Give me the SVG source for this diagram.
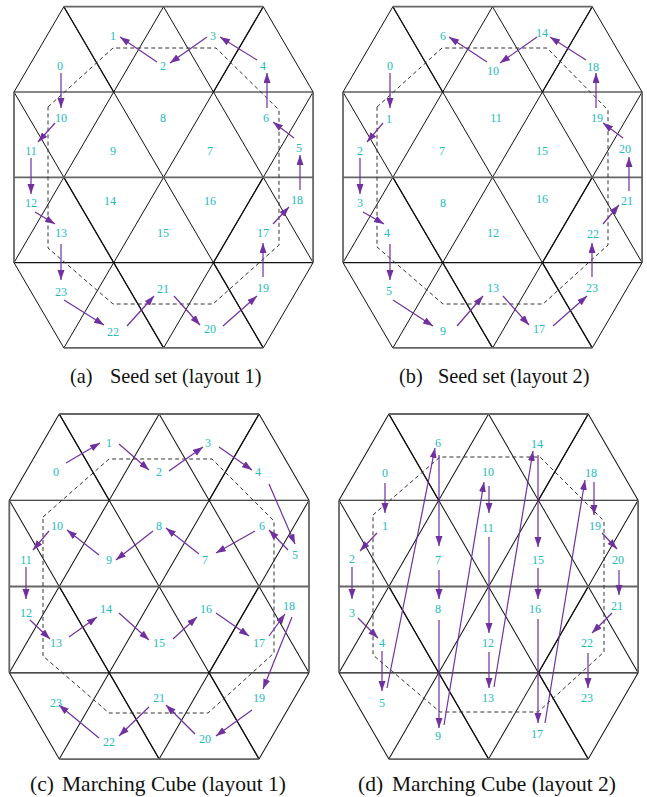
<svg xmlns="http://www.w3.org/2000/svg" xmlns:xlink="http://www.w3.org/1999/xlink" width="647" height="797" viewBox="0 0 647 797">
<style>
.g{fill:none;stroke:#111;stroke-width:1}
.gb{fill:none;stroke:#111;stroke-width:1.3}
.gh{fill:none;stroke:#111;stroke-width:1.2}
.ge{fill:none;stroke:#666;stroke-width:1.8}
.oct{fill:none;stroke:#333;stroke-width:1;stroke-dasharray:4 3}
.lb{font-family:"Liberation Serif","Times New Roman",serif;font-size:12px;fill:#22bcbc;text-anchor:middle}
.arr{stroke:#7030a0;stroke-width:1.2;fill:none;marker-end:url(#ah)}
.cap{font-family:"Liberation Serif","Times New Roman",serif;fill:#111}
</style>
<defs>
<marker id="ah" markerUnits="userSpaceOnUse" markerWidth="10" markerHeight="8" refX="10" refY="3.5" orient="auto">
<path d="M0,0 L10,3.5 L0,7 z" fill="#7030a0"/>
</marker>
<g id="grid">
<path class="g" d="M50,0 L0,86 M150,0 L0,258 M250,0 L50,344 M300,86 L150,344 M300,258 L250,344 M250,0 L300,86 M150,0 L300,258 M50,0 L250,344 M0,86 L150,344 M0,258 L50,344"/>
<path class="gb" d="M50,0 L100,86 M250,0 L200,86 M50,172 L150,344 M250,172 L200,258 L250,344"/>
<path class="gh" d="M0,86 L300,86 M0,258 L300,258"/>
<path class="ge" d="M50,0 L250,0 M50,344 L250,344 M0,172 L300,172 M0,86 L0,258 M300,86 L300,258"/>
</g>
</defs>
<rect width="647" height="797" fill="#fff"/>

<g id="panel-a-grid">
<use xlink:href="#grid" href="#grid" transform="translate(14,6.7) scale(0.997,0.992)"/>
<polygon class="oct" points="48,107 113,48 216,48 279,110 279,245 213,304 113,304 48,248"/>
</g>
<g id="panel-b-grid">
<use xlink:href="#grid" href="#grid" transform="translate(343,6.7) scale(0.997,0.992)"/>
<polygon class="oct" points="377,107 442,48 547,48 608,110 608,245 543,304 443,304 377,247"/>
</g>
<g id="panel-c-grid">
<use xlink:href="#grid" href="#grid" transform="translate(9.3,414) scale(0.999,1.003)"/>
<polygon class="oct" points="43,517 109,459 212,459 274,521 274,653 208,713 109,713 43,656"/>
</g>
<g id="panel-d-grid">
<use xlink:href="#grid" href="#grid" transform="translate(339,414) scale(0.997,1.003)"/>
<polygon class="oct" points="373,515 440,457 540,457 604,521 604,652 538,712 440,712 373,655"/>
</g>

<g id="connectors">
<g id="conn-a">
<line class="arr" x1="61" y1="73" x2="61" y2="108"/>
<line class="arr" x1="55" y1="123" x2="38" y2="142"/>
<line class="arr" x1="31" y1="158" x2="31" y2="194"/>
<line class="arr" x1="35" y1="212" x2="55" y2="224"/>
<line class="arr" x1="61" y1="244" x2="61" y2="280"/>
<line class="arr" x1="64" y1="300" x2="104" y2="325"/>
<line class="arr" x1="127" y1="326" x2="154" y2="296"/>
<line class="arr" x1="174" y1="296" x2="200" y2="325"/>
<line class="arr" x1="223" y1="326" x2="257" y2="296"/>
<line class="arr" x1="263" y1="277" x2="263" y2="243"/>
<line class="arr" x1="273" y1="224" x2="289" y2="207"/>
<line class="arr" x1="300" y1="190" x2="300" y2="155"/>
<line class="arr" x1="294" y1="138" x2="273" y2="122"/>
<line class="arr" x1="267" y1="108" x2="267" y2="73"/>
<line class="arr" x1="257" y1="60" x2="220" y2="37"/>
<line class="arr" x1="207" y1="37" x2="170" y2="63"/>
<line class="arr" x1="157" y1="62" x2="120" y2="37"/>
</g>
<g id="conn-b">
<line class="arr" x1="390" y1="73" x2="390" y2="108"/>
<line class="arr" x1="383" y1="123" x2="367" y2="142"/>
<line class="arr" x1="360" y1="158" x2="360" y2="194"/>
<line class="arr" x1="363" y1="212" x2="384" y2="224"/>
<line class="arr" x1="390" y1="244" x2="390" y2="280"/>
<line class="arr" x1="393" y1="300" x2="433" y2="326"/>
<line class="arr" x1="457" y1="326" x2="483" y2="296"/>
<line class="arr" x1="503" y1="296" x2="529" y2="325"/>
<line class="arr" x1="553" y1="326" x2="587" y2="296"/>
<line class="arr" x1="592" y1="277" x2="592" y2="243"/>
<line class="arr" x1="603" y1="224" x2="619" y2="205"/>
<line class="arr" x1="629" y1="191" x2="629" y2="157"/>
<line class="arr" x1="623" y1="138" x2="603" y2="123"/>
<line class="arr" x1="596" y1="108" x2="596" y2="73"/>
<line class="arr" x1="586" y1="60" x2="550" y2="37"/>
<line class="arr" x1="537" y1="37" x2="500" y2="63"/>
<line class="arr" x1="487" y1="62" x2="449" y2="37"/>
</g>
<g id="conn-c">
<line class="arr" x1="66" y1="463" x2="100" y2="443"/>
<line class="arr" x1="119" y1="444" x2="149" y2="470"/>
<line class="arr" x1="169" y1="471" x2="203" y2="447"/>
<line class="arr" x1="219" y1="447" x2="252" y2="470"/>
<line class="arr" x1="269" y1="484" x2="295" y2="544"/>
<line class="arr" x1="288" y1="550" x2="269" y2="530"/>
<line class="arr" x1="255" y1="531" x2="216" y2="553"/>
<line class="arr" x1="199" y1="554" x2="166" y2="528"/>
<line class="arr" x1="153" y1="531" x2="116" y2="560"/>
<line class="arr" x1="99" y1="555" x2="67" y2="530"/>
<line class="arr" x1="49" y1="531" x2="33" y2="550"/>
<line class="arr" x1="26" y1="567" x2="26" y2="599"/>
<line class="arr" x1="30" y1="620" x2="50" y2="639"/>
<line class="arr" x1="69" y1="637" x2="97" y2="617"/>
<line class="arr" x1="119" y1="613" x2="149" y2="640"/>
<line class="arr" x1="173" y1="639" x2="197" y2="617"/>
<line class="arr" x1="216" y1="613" x2="249" y2="636"/>
<line class="arr" x1="269" y1="636" x2="285" y2="614"/>
<line class="arr" x1="292" y1="617" x2="263" y2="689"/>
<line class="arr" x1="252" y1="710" x2="216" y2="736"/>
<line class="arr" x1="195" y1="734" x2="166" y2="705"/>
<line class="arr" x1="149" y1="707" x2="119" y2="736"/>
<line class="arr" x1="99" y1="738" x2="59" y2="705"/>
</g>
<g id="conn-d">
<line class="arr" x1="385" y1="483" x2="385" y2="513"/>
<line class="arr" x1="377" y1="533" x2="360" y2="551"/>
<line class="arr" x1="352" y1="567" x2="352" y2="599"/>
<line class="arr" x1="358" y1="618" x2="378" y2="638"/>
<line class="arr" x1="382" y1="651" x2="382" y2="691"/>
<line class="arr" x1="387" y1="688" x2="435" y2="448"/>
<line class="arr" x1="439" y1="455" x2="439" y2="546"/>
<line class="arr" x1="439" y1="570" x2="439" y2="599"/>
<line class="arr" x1="439" y1="620" x2="439" y2="728"/>
<line class="arr" x1="444" y1="725" x2="484" y2="482"/>
<line class="arr" x1="489" y1="486" x2="489" y2="513"/>
<line class="arr" x1="489" y1="537" x2="489" y2="633"/>
<line class="arr" x1="489" y1="652" x2="489" y2="688"/>
<line class="arr" x1="494" y1="687" x2="533" y2="451"/>
<line class="arr" x1="538" y1="455" x2="538" y2="547"/>
<line class="arr" x1="538" y1="568" x2="538" y2="599"/>
<line class="arr" x1="538" y1="619" x2="538" y2="723"/>
<line class="arr" x1="545" y1="723" x2="585" y2="480"/>
<line class="arr" x1="594" y1="482" x2="594" y2="515"/>
<line class="arr" x1="602" y1="533" x2="617" y2="549"/>
<line class="arr" x1="619" y1="570" x2="619" y2="595"/>
<line class="arr" x1="612" y1="613" x2="592" y2="633"/>
<line class="arr" x1="588" y1="653" x2="588" y2="688"/>
</g>
</g>

<g id="nodes-a">
<g id="a0"><text class="lb" x="60" y="70.3">0</text></g>
<g id="a1"><text class="lb" x="113" y="40.3">1</text></g>
<g id="a2"><text class="lb" x="163" y="70.3">2</text></g>
<g id="a3"><text class="lb" x="213" y="40.3">3</text></g>
<g id="a4"><text class="lb" x="263" y="70.3">4</text></g>
<g id="a5"><text class="lb" x="299" y="152.3">5</text></g>
<g id="a6"><text class="lb" x="266" y="122.3">6</text></g>
<g id="a7"><text class="lb" x="210" y="155.3">7</text></g>
<g id="a8"><text class="lb" x="163" y="122.3">8</text></g>
<g id="a9"><text class="lb" x="113" y="155.3">9</text></g>
<g id="a10"><text class="lb" x="61" y="122.3">10</text></g>
<g id="a11"><text class="lb" x="31" y="155.3">11</text></g>
<g id="a12"><text class="lb" x="31" y="207.3">12</text></g>
<g id="a13"><text class="lb" x="61" y="237.3">13</text></g>
<g id="a14"><text class="lb" x="110" y="205.3">14</text></g>
<g id="a15"><text class="lb" x="163" y="237.3">15</text></g>
<g id="a16"><text class="lb" x="210" y="205.3">16</text></g>
<g id="a17"><text class="lb" x="263" y="237.3">17</text></g>
<g id="a18"><text class="lb" x="297" y="204.3">18</text></g>
<g id="a19"><text class="lb" x="263" y="292.3">19</text></g>
<g id="a20"><text class="lb" x="210" y="333.3">20</text></g>
<g id="a21"><text class="lb" x="163" y="293.3">21</text></g>
<g id="a22"><text class="lb" x="113" y="336.3">22</text></g>
<g id="a23"><text class="lb" x="61" y="296.3">23</text></g>
</g>

<g id="nodes-b">
<g id="b0"><text class="lb" x="390" y="70.3">0</text></g>
<g id="b1"><text class="lb" x="389" y="123.3">1</text></g>
<g id="b2"><text class="lb" x="360" y="155.3">2</text></g>
<g id="b3"><text class="lb" x="360" y="207.3">3</text></g>
<g id="b4"><text class="lb" x="387" y="237.3">4</text></g>
<g id="b5"><text class="lb" x="389" y="295.3">5</text></g>
<g id="b6"><text class="lb" x="443" y="40.3">6</text></g>
<g id="b7"><text class="lb" x="442" y="155.3">7</text></g>
<g id="b8"><text class="lb" x="443" y="207.3">8</text></g>
<g id="b9"><text class="lb" x="443" y="335.3">9</text></g>
<g id="b10"><text class="lb" x="493" y="75.3">10</text></g>
<g id="b11"><text class="lb" x="496" y="122.3">11</text></g>
<g id="b12"><text class="lb" x="493" y="237.3">12</text></g>
<g id="b13"><text class="lb" x="493" y="292.3">13</text></g>
<g id="b14"><text class="lb" x="542" y="37.3">14</text></g>
<g id="b15"><text class="lb" x="542" y="155.3">15</text></g>
<g id="b16"><text class="lb" x="542" y="203.3">16</text></g>
<g id="b17"><text class="lb" x="539" y="333.3">17</text></g>
<g id="b18"><text class="lb" x="593" y="71.3">18</text></g>
<g id="b19"><text class="lb" x="597" y="122.3">19</text></g>
<g id="b20"><text class="lb" x="625" y="153.3">20</text></g>
<g id="b21"><text class="lb" x="627" y="205.3">21</text></g>
<g id="b22"><text class="lb" x="593" y="238.3">22</text></g>
<g id="b23"><text class="lb" x="592" y="292.3">23</text></g>
</g>

<g id="nodes-c">
<g id="c0"><text class="lb" x="56" y="476.3">0</text></g>
<g id="c1"><text class="lb" x="109" y="447.3">1</text></g>
<g id="c2"><text class="lb" x="159" y="476.3">2</text></g>
<g id="c3"><text class="lb" x="208" y="447.3">3</text></g>
<g id="c4"><text class="lb" x="258" y="476.3">4</text></g>
<g id="c5"><text class="lb" x="295" y="559.3">5</text></g>
<g id="c6"><text class="lb" x="262" y="530.3">6</text></g>
<g id="c7"><text class="lb" x="205" y="564.3">7</text></g>
<g id="c8"><text class="lb" x="159" y="530.3">8</text></g>
<g id="c9"><text class="lb" x="109" y="564.3">9</text></g>
<g id="c10"><text class="lb" x="57" y="530.3">10</text></g>
<g id="c11"><text class="lb" x="26" y="564.3">11</text></g>
<g id="c12"><text class="lb" x="26" y="617.3">12</text></g>
<g id="c13"><text class="lb" x="56" y="647.3">13</text></g>
<g id="c14"><text class="lb" x="106" y="613.3">14</text></g>
<g id="c15"><text class="lb" x="159" y="647.3">15</text></g>
<g id="c16"><text class="lb" x="206" y="613.3">16</text></g>
<g id="c17"><text class="lb" x="259" y="647.3">17</text></g>
<g id="c18"><text class="lb" x="289" y="610.3">18</text></g>
<g id="c19"><text class="lb" x="259" y="702.3">19</text></g>
<g id="c20"><text class="lb" x="205" y="743.3">20</text></g>
<g id="c21"><text class="lb" x="159" y="702.3">21</text></g>
<g id="c22"><text class="lb" x="109" y="746.3">22</text></g>
<g id="c23"><text class="lb" x="56" y="707.3">23</text></g>
</g>

<g id="nodes-d">
<g id="d0"><text class="lb" x="385" y="477.3">0</text></g>
<g id="d1"><text class="lb" x="385" y="530.3">1</text></g>
<g id="d2"><text class="lb" x="352" y="563.3">2</text></g>
<g id="d3"><text class="lb" x="352" y="617.3">3</text></g>
<g id="d4"><text class="lb" x="382" y="647.3">4</text></g>
<g id="d5"><text class="lb" x="382" y="707.3">5</text></g>
<g id="d6"><text class="lb" x="438" y="447.3">6</text></g>
<g id="d7"><text class="lb" x="438" y="564.3">7</text></g>
<g id="d8"><text class="lb" x="438" y="613.3">8</text></g>
<g id="d9"><text class="lb" x="438" y="740.3">9</text></g>
<g id="d10"><text class="lb" x="488" y="476.3">10</text></g>
<g id="d11"><text class="lb" x="488" y="532.3">11</text></g>
<g id="d12"><text class="lb" x="488" y="647.3">12</text></g>
<g id="d13"><text class="lb" x="488" y="702.3">13</text></g>
<g id="d14"><text class="lb" x="537" y="448.3">14</text></g>
<g id="d15"><text class="lb" x="538" y="564.3">15</text></g>
<g id="d16"><text class="lb" x="535" y="613.3">16</text></g>
<g id="d17"><text class="lb" x="537" y="738.3">17</text></g>
<g id="d18"><text class="lb" x="591" y="477.3">18</text></g>
<g id="d19"><text class="lb" x="595" y="530.3">19</text></g>
<g id="d20"><text class="lb" x="618" y="564.3">20</text></g>
<g id="d21"><text class="lb" x="617" y="610.3">21</text></g>
<g id="d22"><text class="lb" x="587" y="647.3">22</text></g>
<g id="d23"><text class="lb" x="587" y="702.3">23</text></g>
</g>

<g id="captions">
<text class="cap" font-size="20.3" y="383"><tspan x="70">(a)</tspan><tspan x="110">Seed set (layout 1)</tspan></text>
<text class="cap" font-size="20.3" y="383"><tspan x="399">(b)</tspan><tspan x="438">Seed set (layout 2)</tspan></text>
<text class="cap" font-size="21.5" y="791"><tspan x="30">(c)</tspan><tspan x="62">Marching Cube (layout 1)</tspan></text>
<text class="cap" font-size="21.5" y="791"><tspan x="358">(d)</tspan><tspan x="392">Marching Cube (layout 2)</tspan></text>
</g>
</svg>
